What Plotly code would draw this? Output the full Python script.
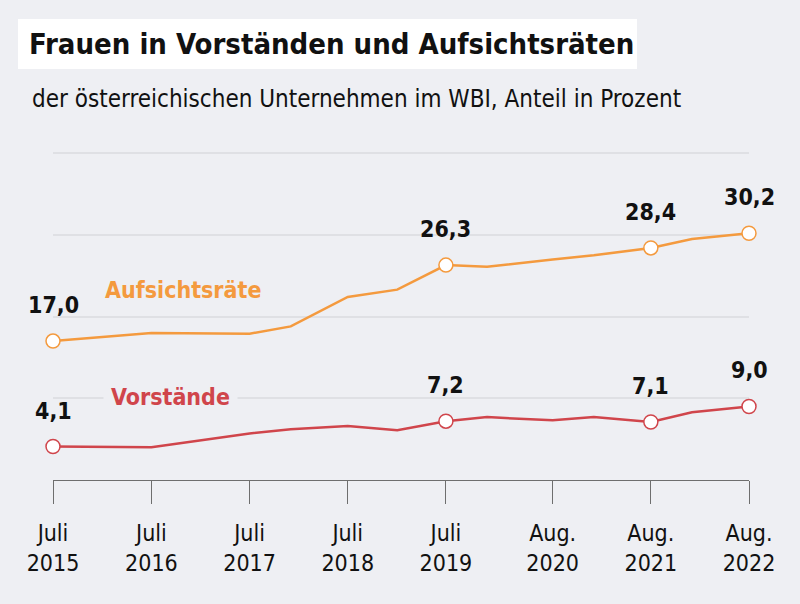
import plotly.graph_objects as go

# Stichtage und Werte (Anteil Frauen in Prozent)
dates = ['2015-07-01', '2016-07-01', '2017-07-01', '2017-12-01', '2018-07-01', '2019-01-01',
         '2019-07-01', '2019-12-01', '2020-08-01', '2021-01-01', '2021-08-01', '2022-01-01', '2022-08-01']
aufsichtsraete = [17.0, 18.0, 17.9, 18.8, 22.4, 23.3, 26.3, 26.1, 27.0, 27.5, 28.4, 29.5, 30.2]
vorstaende = [4.1, 4.0, 5.7, 6.2, 6.6, 6.1, 7.2, 7.7, 7.3, 7.7, 7.1, 8.3, 9.0]
marked = [0, 6, 10, 12]  # Punkte mit Beschriftung

tick_dates = ['2015-07-01', '2016-07-01', '2017-07-01', '2018-07-01', '2019-07-01',
              '2020-08-01', '2021-08-01', '2022-08-01']
tick_labels = ['Juli<br>2015', 'Juli<br>2016', 'Juli<br>2017', 'Juli<br>2018', 'Juli<br>2019',
               'Aug.<br>2020', 'Aug.<br>2021', 'Aug.<br>2022']

BG = '#eeeff3'
ORANGE = '#f49a3e'
RED = '#d0454b'
FONT = 'DejaVu Sans Condensed, sans-serif'

W, H = 800, 604
L, R, T, B = 53, 51, 145, 124


def px(x):
    return (x - L) / (W - L - R)


def py(y):
    return (H - B - y) / (H - T - B)


def fmt(v):
    return f'{v:.1f}'.replace('.', ',')


fig = go.Figure()

for name, values, color in [('Aufsichtsräte', aufsichtsraete, ORANGE), ('Vorstände', vorstaende, RED)]:
    fig.add_trace(go.Scatter(x=dates, y=values, mode='lines', line=dict(color=color, width=2.5),
                             name=name, hoverinfo='skip'))
    fig.add_trace(go.Scatter(x=[dates[i] for i in marked], y=[values[i] for i in marked], mode='markers',
                             marker=dict(size=14, color='white', line=dict(color=color, width=1.5)),
                             cliponaxis=False, hoverinfo='skip'))
    for i in marked:
        fig.add_annotation(x=dates[i], y=values[i], text=fmt(values[i]), showarrow=False, yshift=36,
                           font=dict(family=FONT, size=23, color='#111111', weight='bold'))

# Serienbeschriftungen
fig.add_annotation(xref='paper', yref='paper', x=px(103), y=py(290), xanchor='left', yanchor='middle',
                   text='Aufsichtsräte', showarrow=False,
                   font=dict(family=FONT, size=23, color=ORANGE, weight='bold'))
fig.add_annotation(xref='paper', yref='paper', x=px(103), y=py(397), xanchor='left', yanchor='middle',
                   text='Vorstände', showarrow=False, bgcolor=BG, borderpad=7,
                   font=dict(family=FONT, size=23, color=RED, weight='bold'))

# Titel
fig.add_shape(type='rect', xref='paper', yref='paper', x0=px(18), x1=px(637), y0=py(69), y1=py(19),
              fillcolor='white', line_width=0, layer='above')
fig.add_annotation(xref='paper', yref='paper', x=px(27), y=py(44), xanchor='left', yanchor='middle',
                   text='Frauen in Vorständen und Aufsichtsräten', showarrow=False,
                   font=dict(family=FONT, size=29, color='#111111', weight='bold'))
fig.add_annotation(xref='paper', yref='paper', x=px(30), y=py(99), xanchor='left', yanchor='middle',
                   text='der österreichischen Unternehmen im WBI, Anteil in Prozent', showarrow=False,
                   font=dict(family=FONT, size=24, color='#111111'))

fig.update_layout(
    width=W, height=H,
    margin=dict(l=L, r=R, t=T, b=B),
    paper_bgcolor=BG, plot_bgcolor=BG,
    showlegend=False,
    xaxis=dict(
        type='date', range=['2015-07-01', '2022-08-01'],
        tickmode='array', tickvals=tick_dates, ticktext=tick_labels,
        ticks='outside', ticklen=23, tickcolor='#6e6e6e', tickwidth=1,
        showline=True, linecolor='#6e6e6e', linewidth=1,
        showgrid=False, zeroline=False, ticklabelstandoff=9,
        tickfont=dict(family=FONT, size=23, color='#111111'),
    ),
    yaxis=dict(
        range=[0, 41], tickvals=[10, 20, 30, 40], showticklabels=False,
        showgrid=True, gridcolor='#dfe0e4', gridwidth=1.5, zeroline=False,
    ),
)

fig.write_html('out.html', config={'displayModeBar': False},
               post_script="document.body.style.margin='0';")
